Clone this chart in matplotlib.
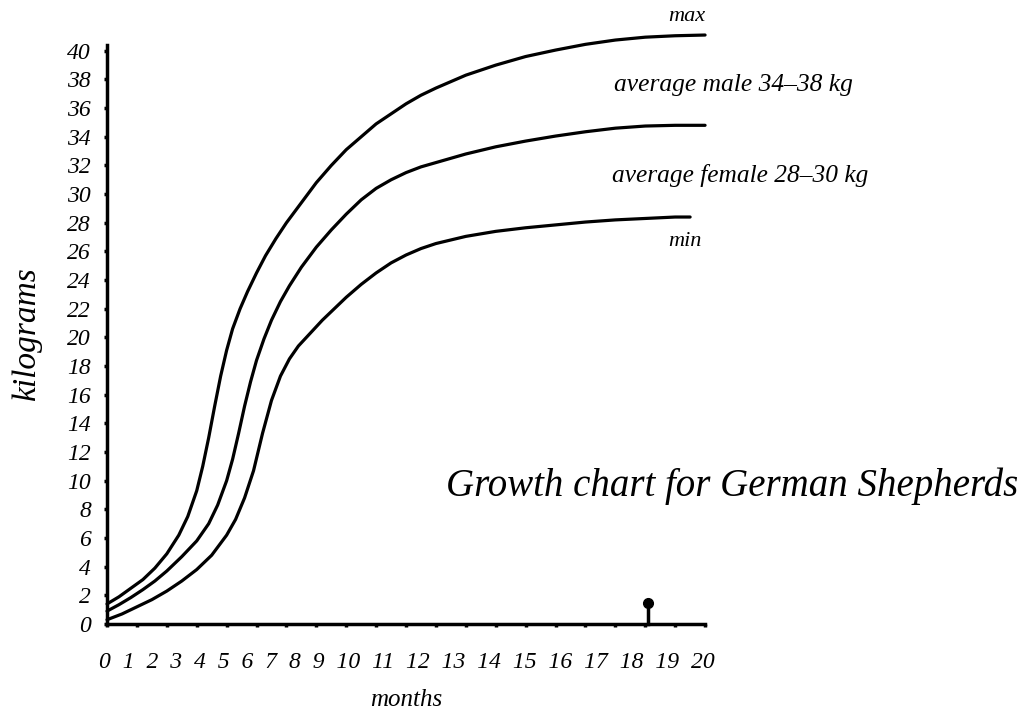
import matplotlib
matplotlib.use('Agg')
import matplotlib.pyplot as plt

plt.rcParams['font.family'] = ['Liberation Serif', 'DejaVu Serif']
plt.rcParams['font.style'] = 'italic'

# weights (months -> kg)
months_max = [0, 0.4, 0.8, 1.2, 1.6, 2.0, 2.4, 2.7, 3.0, 3.2, 3.4, 3.6, 3.8, 4.0, 4.2, 4.45,
              4.7, 5.0, 5.3, 5.65, 6.0, 6.5, 7.0, 7.5, 8.0, 8.5, 9.0, 9.5, 10.0, 10.5, 11,
              12, 13, 14, 15, 16, 17, 18, 19, 20]
kg_max = [1.4, 1.9, 2.5, 3.1, 3.9, 4.9, 6.2, 7.5, 9.3, 11.0, 13.0, 15.2, 17.3, 19.1, 20.6,
          22.0, 23.2, 24.5, 25.7, 26.9, 28.0, 29.4, 30.8, 32.0, 33.1, 34.0, 34.9, 35.6,
          36.3, 36.9, 37.4, 38.3, 39.0, 39.6, 40.05, 40.45, 40.75, 40.95, 41.05, 41.1]

months_avg = [0, 0.4, 0.8, 1.2, 1.6, 2.0, 2.5, 3.0, 3.4, 3.7, 4.0, 4.2, 4.4, 4.6, 4.8, 5.0,
              5.25, 5.5, 5.8, 6.1, 6.5, 7.0, 7.5, 8.0, 8.5, 9.0, 9.5, 10.0, 10.5, 11, 12,
              13, 14, 15, 16, 17, 18, 19, 20]
kg_avg = [0.9, 1.35, 1.85, 2.4, 3.0, 3.7, 4.7, 5.8, 7.0, 8.3, 10.0, 11.5, 13.3, 15.2, 16.9,
          18.4, 19.9, 21.2, 22.5, 23.6, 24.9, 26.3, 27.5, 28.6, 29.6, 30.4, 31.0, 31.5,
          31.9, 32.2, 32.8, 33.3, 33.7, 34.05, 34.35, 34.6, 34.75, 34.8, 34.8]

months_min = [0, 0.5, 1, 1.5, 2, 2.5, 3, 3.5, 4, 4.3, 4.6, 4.9, 5.2, 5.5, 5.8, 6.1, 6.4,
              6.8, 7.2, 7.6, 8.0, 8.5, 9.0, 9.5, 10.0, 10.5, 11, 12, 13, 14, 15, 16, 17,
              18, 19, 19.5]
kg_min = [0.3, 0.7, 1.2, 1.7, 2.3, 3.0, 3.8, 4.8, 6.2, 7.3, 8.8, 10.7, 13.3, 15.6, 17.3,
          18.5, 19.4, 20.3, 21.2, 22.0, 22.8, 23.7, 24.5, 25.2, 25.75, 26.2, 26.55, 27.05,
          27.4, 27.65, 27.85, 28.05, 28.2, 28.3, 28.4, 28.4]

month_ticks = list(range(0, 21))
kg_ticks = list(range(0, 41, 2))

pin_month = 18.1
pin_height = 1.5

fig = plt.figure(figsize=(10.32, 7.13), dpi=100)
ax = fig.add_axes([0.1037, 0.1248, 0.5795, 0.812])

for xs, ys in [(months_max, kg_max), (months_avg, kg_avg), (months_min, kg_min)]:
    ax.plot(xs, ys, color='black', lw=2.3, solid_capstyle='round',
            solid_joinstyle='round', clip_on=False)

# little pin on the x axis
ax.plot([pin_month, pin_month], [0, pin_height], color='black', lw=2.5, clip_on=False)
ax.plot([pin_month], [pin_height], marker='o', ms=7, color='black', clip_on=False)

ax.set_xlim(0, 20)
ax.set_ylim(0, 40.4)
ax.spines['top'].set_visible(False)
ax.spines['right'].set_visible(False)
ax.spines['left'].set_linewidth(2.5)
ax.spines['bottom'].set_linewidth(2.5)

ax.set_xticks(month_ticks)
ax.set_xticklabels([])
ax.set_yticks(kg_ticks)
ax.set_yticklabels([str(k) for k in kg_ticks])
ax.tick_params(axis='both', direction='out', length=2.5, width=2.5)
ax.tick_params(axis='y', labelsize=17, pad=9)

# month numbers are typeset as one line under the axis
ax.annotate('\u2002'.join(str(m) for m in month_ticks), xy=(0, 0), xytext=(-6, -28),
            textcoords='offset points', ha='left', va='center', fontsize=17,
            annotation_clip=False)

ax.set_xlabel('months', fontsize=18, labelpad=41)
ax.set_ylabel('kilograms', fontsize=24, labelpad=18)

ax.text(19.4, 42.4, 'max', fontsize=16, ha='center', va='center', clip_on=False)
ax.text(16.95, 37.6, 'average male 34\u201338 kg', fontsize=18.4, ha='left', va='center',
        clip_on=False)
ax.text(16.9, 31.3, 'average female 28\u201330 kg', fontsize=18.3, ha='left', va='center',
        clip_on=False)
ax.text(19.33, 26.7, 'min', fontsize=16, ha='center', va='center', clip_on=False)

ax.text(11.34, 9.6, 'Growth chart for German Shepherds', fontsize=28, ha='left',
        va='center', clip_on=False)

plt.savefig('out.png', dpi=100)
